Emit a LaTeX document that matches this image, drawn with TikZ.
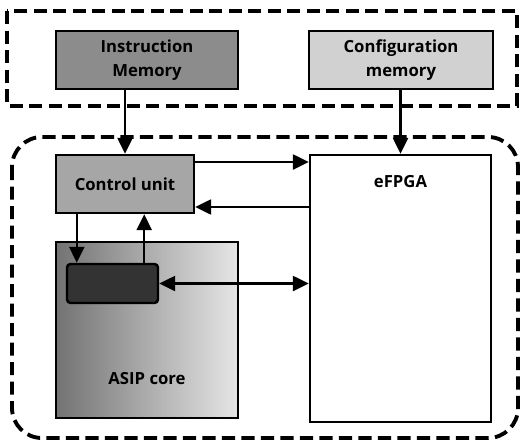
\documentclass[tikz,border=0pt]{standalone}
\usepackage{fontspec}
\setmainfont{Open Sans}
\usetikzlibrary{arrows.meta}
\tikzset{
  blk/.style={draw,line width=1.4pt,inner sep=0,align=center,font=\fontsize{9.5}{14}\selectfont\bfseries},
  grp/.style={line width=2.2pt,dash pattern=on 7.5pt off 3.6pt},
  >={Triangle[length=3.2mm,width=3mm]}
}
\begin{document}
\begin{tikzpicture}[x=0.02cm,y=-0.02cm,line width=1.4pt]
  \useasboundingbox (0,0) rectangle (520,443);
  \draw[grp] (7,11) rectangle (517,106);
  \draw[grp,rounded corners=0.6cm] (12,137) rectangle (518,438);
  \node[blk,fill=black!45,minimum width=3.64cm,minimum height=1.16cm] (im) at (147,60) {Instruction\\Memory};
  \node[blk,fill=black!18,minimum width=3.68cm,minimum height=1.16cm] (cm) at (401,60) {Configuration\\memory};
  \node[blk,fill=black!35,minimum width=2.76cm,minimum height=1.16cm] (cu) at (125,184) {Control unit};
  \node[blk,left color=black!55,right color=black!10,minimum width=3.64cm,minimum height=3.52cm,
        label={[anchor=south,yshift=0.55cm,font=\fontsize{9.5}{14}\selectfont\bfseries]south:ASIP core}] (asip) at (147,330) {};
  \node[draw,line width=1.4pt,fill=black!80,rounded corners=2pt,minimum width=1.82cm,minimum height=0.78cm] (reg) at (112.5,283.5) {};
  \node[blk,fill=white,minimum width=3.62cm,minimum height=5.34cm,
        label={[anchor=north,yshift=-0.3cm,font=\fontsize{9.5}{14}\selectfont\bfseries]north:eFPGA}] (efpga) at (400.5,288.5) {};
  \coordinate (down) at ([xshift=0.22cm]reg.north west);
  \coordinate (up) at ([xshift=-0.3cm]reg.north east);
  \draw[->] (im.south -| cu.north) -- (cu.north);
  \draw[->] (cm.south -| efpga.north) -- (efpga.north);
  \draw[->] ([yshift=0.44cm]cu.east) -- ([yshift=0.44cm]cu.east -| efpga.west);
  \draw[->] ([yshift=-0.46cm]cu.east -| efpga.west) -- ([yshift=-0.46cm]cu.east);
  \draw[->] (cu.south -| down) -- (down);
  \draw[->] (up) -- (cu.south -| up);
  \draw[<->] (reg.east) -- (reg.east -| efpga.west);
\end{tikzpicture}
\end{document}
